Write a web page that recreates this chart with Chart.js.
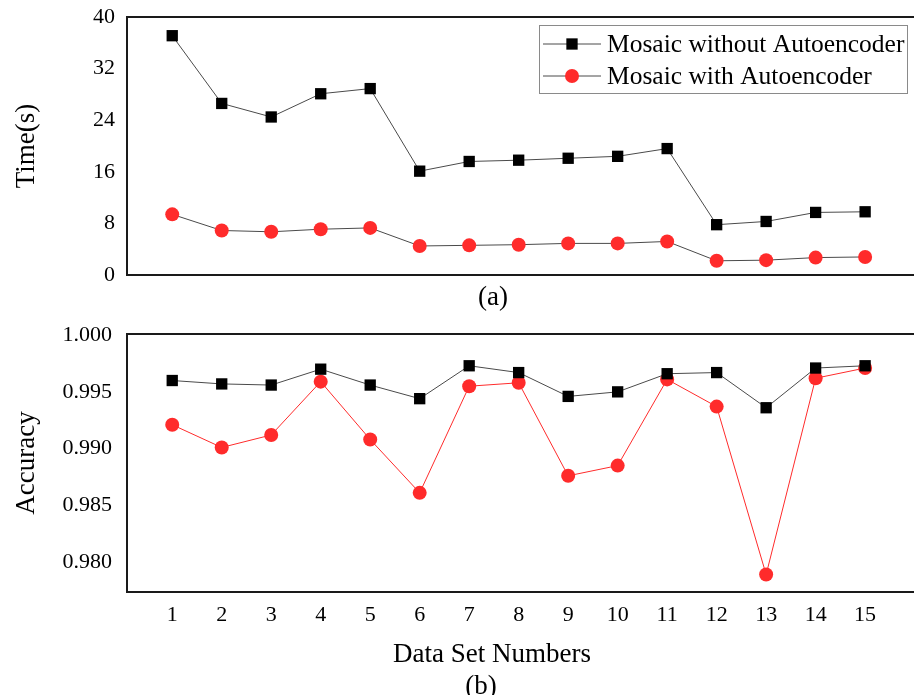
<!DOCTYPE html>
<html>
<head>
<meta charset="utf-8">
<script src="https://cdn.jsdelivr.net/npm/chart.js@4/dist/chart.umd.min.js"></script>
<style>
  html, body { margin: 0; padding: 0; background: #fff; overflow: hidden; }
  #wrap { position: relative; width: 914px; height: 695px; }
  canvas { position: absolute; left: 0; }
  #c1 { top: 0; }
  #c2 { top: 300px; }
  .cap { position: absolute; font-family: "Liberation Serif", "Times New Roman", serif; font-size: 27px; color: #000; line-height: 1; transform: translate(-50%, -50%); white-space: nowrap; }
</style>
</head>
<body>
<div id="wrap">
  <canvas id="c1" width="914" height="300"></canvas>
  <canvas id="c2" width="914" height="395"></canvas>
  <div class="cap" style="left:493px; top:296px;">(a)</div>
  <div class="cap" style="left:492px; top:653px;">Data Set Numbers</div>
  <div class="cap" style="left:481px; top:685px;">(b)</div>
</div>
<script>
// ---- data ----
const dataSetNumbers = [1, 2, 3, 4, 5, 6, 7, 8, 9, 10, 11, 12, 13, 14, 15];
const seriesNames = ["Mosaic without Autoencoder", "Mosaic with Autoencoder"];
const timeWithout = [37.1, 26.6, 24.5, 28.1, 28.9, 16.1, 17.6, 17.8, 18.1, 18.4, 19.6, 7.8, 8.3, 9.7, 9.8];
const timeWith    = [9.4, 6.9, 6.7, 7.1, 7.3, 4.5, 4.6, 4.7, 4.9, 4.9, 5.2, 2.2, 2.3, 2.7, 2.8];
const accWithout  = [0.9960, 0.9957, 0.9956, 0.9970, 0.9956, 0.9944, 0.9973, 0.9967, 0.9946, 0.9950, 0.9966, 0.9967, 0.9936, 0.9971, 0.9973];
const accWith     = [0.9921, 0.9901, 0.9912, 0.9959, 0.9908, 0.9861, 0.9955, 0.9958, 0.9876, 0.9885, 0.9961, 0.9937, 0.9789, 0.9962, 0.9971];
const timeTicks = [0, 8, 16, 24, 32, 40];
const accTicks  = [0.980, 0.985, 0.990, 0.995, 1.000];

const FONT = '"Liberation Serif", "Times New Roman", serif';
const RED = '#ff2b2b';
const GREY = '#4a4a4a';

const toPts = (ys) => dataSetNumbers.map((x, i) => ({ x: x, y: ys[i] }));

// box border plugin (top, left, bottom; right side runs off the page)
const boxPlugin = {
  id: 'box',
  afterDraw(chart) {
    const { ctx, chartArea: a } = chart;
    ctx.save();
    ctx.strokeStyle = '#1a1a1a';
    ctx.lineWidth = 2;
    ctx.beginPath();
    ctx.moveTo(chart.width + 2, a.top);
    ctx.lineTo(a.left, a.top);
    ctx.lineTo(a.left, a.bottom);
    ctx.lineTo(chart.width + 2, a.bottom);
    ctx.stroke();
    ctx.restore();
  }
};

// legend drawn inside plot area
const legendPlugin = {
  id: 'boxLegend',
  afterDraw(chart, args, opts) {
    if (!opts.show) return;
    const { ctx } = chart;
    ctx.save();
    ctx.strokeStyle = '#8a8a8a';
    ctx.lineWidth = 1;
    ctx.strokeRect(539.5, 25.5, 368, 68);
    const rows = [44, 76];
    chart.data.datasets.forEach((ds, i) => {
      const y = rows[i];
      ctx.strokeStyle = ds.borderColor;
      ctx.lineWidth = 1;
      ctx.beginPath();
      ctx.moveTo(543, y);
      ctx.lineTo(601, y);
      ctx.stroke();
      ctx.fillStyle = ds.pointBackgroundColor;
      Chart.helpers.drawPoint(ctx, {
        pointStyle: ds.pointStyle, radius: ds.pointRadius, rotation: 0, borderWidth: 0
      }, 572, y);
      ctx.fillStyle = '#000';
      ctx.font = '25.5px ' + FONT;
      ctx.textBaseline = 'middle';
      ctx.textAlign = 'left';
      ctx.fillText(ds.label, 607, y + 1);
    });
    ctx.restore();
  }
};

function makeOpts(cfg) {
  return {
    responsive: false,
    animation: false,
    devicePixelRatio: 1,
    layout: { padding: { top: cfg.padTop, left: 0, right: 0, bottom: 0 } },
    plugins: {
      legend: { display: false },
      tooltip: { enabled: false },
      boxLegend: { show: cfg.legend }
    },
    scales: {
      x: {
        type: 'linear',
        min: 0.086, max: 15.826,
        grid: { display: false, drawTicks: false },
        border: { display: false },
        afterBuildTicks(s) { s.ticks = dataSetNumbers.map(v => ({ value: v })); },
        ticks: {
          display: cfg.xLabels,
          autoSkip: false,
          maxRotation: 0,
          padding: 10,
          color: '#000',
          font: { family: FONT, size: 22 },
          callback: (v) => String(v)
        },
        afterFit(s) { s.height = cfg.xHeight; s.paddingLeft = 0; s.paddingRight = 0; }
      },
      y: {
        type: 'linear',
        min: cfg.yMin, max: cfg.yMax,
        grid: { display: false, drawTicks: false },
        border: { display: false },
        afterBuildTicks(s) { s.ticks = cfg.yTicks.map(v => ({ value: v })); },
        ticks: {
          padding: cfg.yPad,
          color: '#000',
          font: { family: FONT, size: 22 },
          callback: cfg.yFmt
        },
        title: {
          display: true,
          text: cfg.yTitle,
          color: '#000',
          font: { family: FONT, size: 27 },
          padding: { top: 11, bottom: 0 }
        },
        afterFit(s) { s.width = 127; s.paddingTop = 0; s.paddingBottom = 0; }
      }
    }
  };
}

new Chart(document.getElementById('c1'), {
  type: 'line',
  data: {
    datasets: [
      { label: seriesNames[0], data: toPts(timeWithout), borderColor: GREY, borderWidth: 1,
        pointStyle: 'rect', pointRadius: 8, pointBackgroundColor: '#000', pointBorderWidth: 0 },
      { label: seriesNames[1], data: toPts(timeWith), borderColor: GREY, borderWidth: 1,
        pointStyle: 'circle', pointRadius: 7, pointBackgroundColor: RED, pointBorderWidth: 0 }
    ]
  },
  options: makeOpts({ padTop: 17, xHeight: 25, xLabels: false, yMin: 0, yMax: 40, yTicks: timeTicks, yPad: 12,
    yFmt: (v) => String(v), yTitle: 'Time(s)', legend: true }),
  plugins: [boxPlugin, legendPlugin]
});

new Chart(document.getElementById('c2'), {
  type: 'line',
  data: {
    datasets: [
      { label: seriesNames[0], data: toPts(accWithout), borderColor: GREY, borderWidth: 1,
        pointStyle: 'rect', pointRadius: 8, pointBackgroundColor: '#000', pointBorderWidth: 0 },
      { label: seriesNames[1], data: toPts(accWith), borderColor: RED, borderWidth: 1,
        pointStyle: 'circle', pointRadius: 7, pointBackgroundColor: RED, pointBorderWidth: 0 }
    ]
  },
  options: makeOpts({ padTop: 34, xHeight: 103, xLabels: true, yMin: 0.97736, yMax: 1.0001, yTicks: accTicks, yPad: 15,
    yFmt: (v) => v.toFixed(3), yTitle: 'Accuracy', legend: false }),
  plugins: [boxPlugin, legendPlugin]
});
</script>
</body>
</html>
